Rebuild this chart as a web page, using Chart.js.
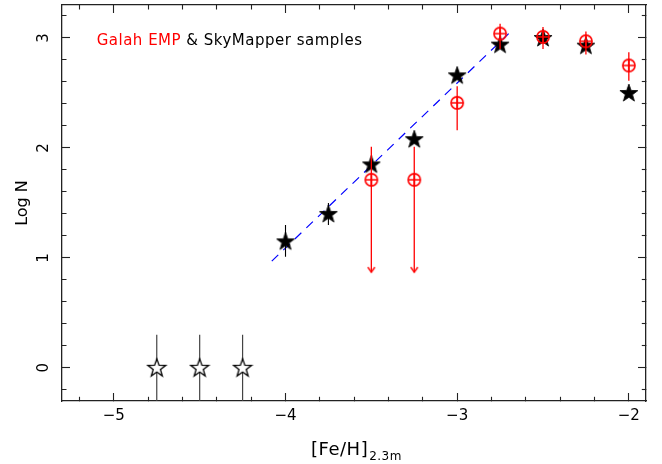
<!DOCTYPE html>
<html><head><meta charset="utf-8">
<script src="https://cdn.jsdelivr.net/npm/chart.js@4"></script>
<style>html,body{margin:0;padding:0;background:#fff}#wrap{width:662px;height:464px;position:relative}</style>
</head><body><div id="wrap"><canvas id="c"></canvas></div>
<script>
// ---- data ----
const xMajorTicks = [-5, -4, -3, -2];
const yMajorTicks = [0, 1, 2, 3];
const skyFeH  = [-4, -3.75, -3.5, -3.25, -3, -2.75, -2.5, -2.25, -2];
const skyLogN = [1.15, 1.40, 1.85, 2.08, 2.66, 2.94, 3.00, 2.93, 2.50];
const skyErrFeH = [-4, -3.75];
const skyErrLo  = [1.01, 1.30];
const skyErrHi  = [1.30, 1.50];
const galahFeH  = [-3.5, -3.25, -3, -2.75, -2.5, -2.25, -2];
const galahLogN = [1.71, 1.71, 2.41, 3.04, 3.01, 2.97, 2.75];
const galahErrLo = [0.87, 0.87, 2.16, 2.90, 2.90, 2.85, 2.61];
const galahErrHi = [2.01, 2.01, 2.56, 3.13, 3.10, 3.06, 2.87];
const arrowFeH  = [-3.5, -3.25];
const arrowLogN = [0.87, 0.87];
const limitFeH  = [-4.75, -4.5, -4.25];
const limitLogN = [0, 0, 0];
const limitErrLo = [-0.45, -0.45, -0.45];
const limitErrHi = [0.30, 0.30, 0.30];
const fitFeH  = [-4.08, -2.70];
const fitLogN = [0.97, 3.04];
const labelRed = 'Galah EMP';
const labelBlack = '& SkyMapper samples';

// ---- helpers ----
const pts = (xs, ys) => xs.map((x, i) => ({x, y: ys[i]}));
const bars = (xs, lo, hi) => xs.flatMap((x, i) => [{x, y: lo[i]}, {x, y: hi[i]}, {x, y: null}]);
function starCanvas(filled) {
  const c = document.createElement('canvas'); c.width = 22; c.height = 22;
  const g = c.getContext('2d'); const R = 9.4, r = 3.8, cx = 11, cy = 11.5;
  g.beginPath();
  for (let k = 0; k < 10; k++) {
    const a = -Math.PI / 2 + k * Math.PI / 5, rr = k % 2 ? r : R;
    const px = cx + rr * Math.cos(a), py = cy + rr * Math.sin(a);
    k ? g.lineTo(px, py) : g.moveTo(px, py);
  }
  g.closePath();
  if (filled) { g.fillStyle = '#000'; g.fill(); g.strokeStyle = '#000'; g.lineWidth = 0.8; g.stroke(); }
  else { g.fillStyle = '#fff'; g.fill(); g.strokeStyle = '#000'; g.lineWidth = 1.3; g.stroke(); }
  return c;
}
function circlePlus() {
  const c = document.createElement('canvas'); c.width = 16; c.height = 16;
  const g = c.getContext('2d'); g.strokeStyle = '#ff0000'; g.lineWidth = 1.6;
  g.beginPath(); g.arc(8, 8, 6.1, 0, 2 * Math.PI); g.stroke();
  g.beginPath(); g.moveTo(1.8, 8); g.lineTo(14.2, 8); g.moveTo(8, 1.8); g.lineTo(8, 14.2); g.stroke();
  return c;
}
function arrowHead() {
  const c = document.createElement('canvas'); c.width = 14; c.height = 14;
  const g = c.getContext('2d'); g.strokeStyle = '#ff0000'; g.lineWidth = 1.4;
  g.beginPath(); g.moveTo(3.5, 2); g.lineTo(7, 7); g.lineTo(10.5, 2); g.stroke();
  return c;
}
const isMajor = v => Math.abs(v - Math.round(v)) < 1e-6;
const fmt = v => { const n = Math.round(v); return n < 0 ? '\u2212' + Math.abs(n) : String(n); };
const FONT = 'DejaVu Sans';

function gridOpts(startAtAxis) {
  return {
    drawOnChartArea: false, drawTicks: true, tickLength: -8,
    tickColor: '#222', tickWidth: 1.1,
    tickBorderDash: ctx => isMajor(ctx.tick.value) ? [] : (startAtAxis ? [4.5, 100] : [0, 3.5, 4.5, 100])
  };
}
const border = {display: true, color: '#222', width: 1.3};
const zeroPad = s => { s.paddingTop = 0; s.paddingBottom = 0; s.paddingLeft = 0; s.paddingRight = 0; };

const textPlugin = {
  id: 'texts',
  afterDraw(chart) {
    const {ctx, scales: {x, y}} = chart;
    ctx.save();
    // rotated y tick labels (reading bottom to top)
    ctx.font = '15px "' + FONT + '"';
    ctx.fillStyle = '#000';
    ctx.textAlign = 'center';
    ctx.textBaseline = 'middle';
    yMajorTicks.forEach(v => {
      ctx.save();
      ctx.translate(44.5, y.getPixelForValue(v));
      ctx.rotate(-Math.PI / 2);
      ctx.fillText(fmt(v), 0, 0);
      ctx.restore();
    });
    ctx.textAlign = 'left';
    ctx.textBaseline = 'alphabetic';
    ctx.letterSpacing = '0.5px';
    const tx = x.getPixelForValue(-5.1), ty = y.getPixelForValue(2.935);
    ctx.fillStyle = '#ff0000';
    ctx.fillText(labelRed, tx, ty);
    const w = ctx.measureText(labelRed + ' ').width;
    ctx.fillStyle = '#000';
    ctx.fillText(labelBlack, tx + w, ty);
    // x-axis title with subscript
    const main = '[Fe/H]', sub = '2.3m';
    ctx.font = '18px "' + FONT + '"';
    const wm = ctx.measureText(main).width;
    ctx.font = '12px "' + FONT + '"';
    const ws = ctx.measureText(sub).width;
    const cx = (chart.chartArea.left + chart.chartArea.right) / 2 + 2;
    const x0 = cx - (wm + ws) / 2;
    ctx.font = '18px "' + FONT + '"';
    ctx.fillText(main, x0, 455);
    ctx.font = '12px "' + FONT + '"';
    ctx.fillText(sub, x0 + wm + 1, 460);
    ctx.restore();
  }
};

new Chart(document.getElementById('c'), {
  type: 'scatter',
  data: {
    datasets: [
      {label: 'Galah EMP', data: pts(galahFeH, galahLogN), pointStyle: circlePlus(), pointRadius: 7, order: 0},
      {label: 'Galah arrows', data: pts(arrowFeH, arrowLogN), pointStyle: arrowHead(), pointRadius: 7, order: 1},
      {label: 'Galah errors', data: bars(galahFeH, galahErrLo, galahErrHi), showLine: true, spanGaps: false,
       borderColor: '#ff0000', borderWidth: 1.3, pointRadius: 0, order: 1},
      {label: 'SkyMapper', data: pts(skyFeH, skyLogN), pointStyle: starCanvas(true), pointRadius: 9, order: 2},
      {label: 'SkyMapper errors', data: bars(skyErrFeH, skyErrLo, skyErrHi), showLine: true, spanGaps: false,
       borderColor: '#000', borderWidth: 1.1, pointRadius: 0, order: 3},
      {label: 'Limits', data: pts(limitFeH, limitLogN), pointStyle: starCanvas(false), pointRadius: 9, order: 2},
      {label: 'Limit errors', data: bars(limitFeH, limitErrLo, limitErrHi), showLine: true, spanGaps: false,
       borderColor: '#444', borderWidth: 1.2, pointRadius: 0, order: 3},
      {label: 'Fit', data: pts(fitFeH, fitLogN), showLine: true, borderColor: '#0000ff', borderWidth: 1.2,
       borderDash: [9, 7], pointRadius: 0, order: 4}
    ]
  },
  options: {
    responsive: true, maintainAspectRatio: false, animation: false, events: [],
    layout: {autoPadding: false, padding: {left: 0, right: 16, top: 5, bottom: 0}},
    plugins: {legend: {display: false}, tooltip: {enabled: false}},
    scales: {
      x: {
        type: 'linear', position: 'bottom', min: -5.302, max: -1.9,
        ticks: {stepSize: 0.2, includeBounds: false, autoSkip: false, maxRotation: 0, minRotation: 0, padding: 14, color: '#000',
          font: {family: FONT, size: 15},
          callback: v => (isMajor(v) && xMajorTicks.includes(Math.round(v))) ? fmt(v) : ''},
        grid: gridOpts(true), border,
        afterFit: s => { s.height = 63; zeroPad(s); }
      },
      x2: {
        type: 'linear', position: 'top', min: -5.302, max: -1.9,
        ticks: {stepSize: 0.2, includeBounds: false, autoSkip: false, display: false},
        grid: gridOpts(false), border,
        afterFit: s => { s.height = 0; zeroPad(s); }
      },
      y: {
        type: 'linear', position: 'left', min: -0.302, max: 3.3,
        ticks: {stepSize: 0.2, includeBounds: false, autoSkip: false, display: false},
        title: {display: true, text: 'Log N', color: '#000', font: {family: FONT, size: 16}, padding: {top: 13, bottom: 0}},
        grid: gridOpts(false), border,
        afterFit: s => { s.width = 62; zeroPad(s); }
      },
      y2: {
        type: 'linear', position: 'right', min: -0.302, max: 3.3,
        ticks: {stepSize: 0.2, includeBounds: false, autoSkip: false, display: false},
        grid: gridOpts(true), border,
        afterFit: s => { s.width = 0; zeroPad(s); }
      }
    }
  },
  plugins: [textPlugin]
});
</script>
</body></html>
